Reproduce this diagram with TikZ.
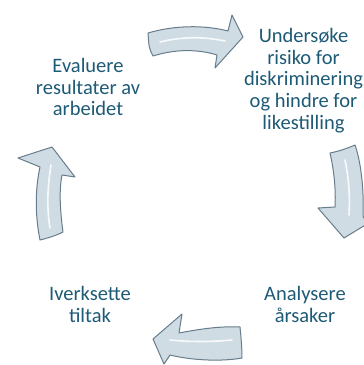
\documentclass[tikz,border=0pt]{standalone}
\usepackage{fontspec}
\setmainfont{Carlito}
\definecolor{txt}{HTML}{1D5A76}
\definecolor{arrfill}{HTML}{CFDCE4}
\definecolor{arredge}{HTML}{677D8B}
\begin{document}
\begin{tikzpicture}[x=1pt,y=-1pt,
  lbl/.style={anchor=north,inner sep=0pt,align=center,text=txt,
    font=\fontsize{20.5}{21.7}\selectfont},
  cyc/.style={fill=arrfill,draw=arredge,line width=1pt,line join=round},
  glint/.style={draw=white,line width=1.6pt,line cap=round,opacity=0.85}]
\useasboundingbox (0,0) rectangle (364,365);
% texts
\node[lbl] (eval) at (88,58) {Evaluere\\resultater av\\arbeidet};
\node[lbl] (unders) at (303.5,28) {Undersøke\\risiko for\\diskriminering\\og hindre for\\likestilling};
\node[lbl] (iverk) at (90,286) {Iverksette\\tiltak};
\node[lbl] (analy) at (305,286) {Analysere\\årsaker};
% top arrow (to the right)
\path[cyc] (148,33) .. controls (175,25) and (205,25) .. (228,31)
  -- (232,15) -- (243,37) -- (215,68) -- (217,55)
  .. controls (198,49) and (175,49) .. (153,56)
  .. controls (149,48) .. cycle;
\draw[glint] (160,42) .. controls (185,36) and (205,37) .. (225,41);
% right arrow (down)
\path[cyc] (330,153) .. controls (340,151) and (348,148) .. (355,145)
  .. controls (362,165) and (364,195) .. (363,216)
  -- (367,224) -- (344,238) -- (318,208) -- (335,207)
  .. controls (336,190) and (334,170) .. cycle;
\draw[glint] (345,160) .. controls (349,180) and (350,195) .. (349,215);
% bottom arrow (to the left)
\path[cyc] (240,327) .. controls (241,337) and (242,348) .. (242,358)
  .. controls (220,362) and (190,360) .. (170,355)
  -- (164,364) -- (153,339) -- (182,314) -- (179,333)
  .. controls (200,329) and (220,326) .. cycle;
\draw[glint] (232,340) .. controls (210,342) and (190,342) .. (170,340);
% left arrow (up)
\path[cyc] (40,240) .. controls (35,215) and (35,190) .. (40,167)
  -- (18,158) -- (52,147) -- (75,177) -- (62,175)
  .. controls (59,190) and (60,210) .. (63,232)
  .. controls (55,236) and (48,238) .. cycle;
\draw[glint] (50,228) .. controls (47,210) and (47,190) .. (51,165);
\end{tikzpicture}
\end{document}
